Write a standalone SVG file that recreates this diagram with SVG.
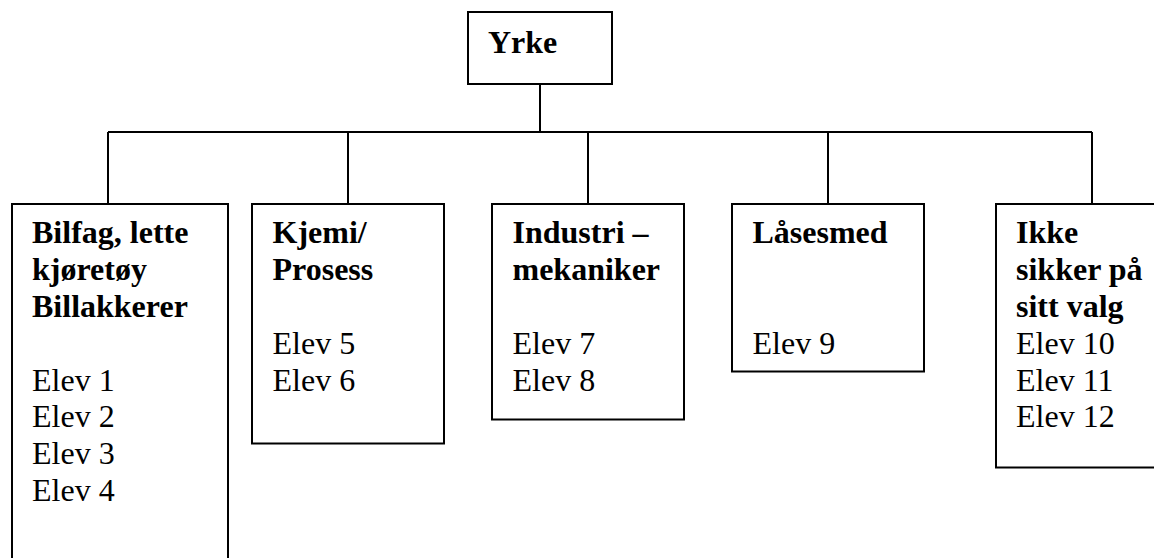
<svg xmlns="http://www.w3.org/2000/svg" width="1154" height="558" viewBox="0 0 1154 558">
  <style>
    .box { fill: #ffffff; stroke: #000000; stroke-width: 2; }
    .wire { fill: none; stroke: #000000; stroke-width: 2; }
    text { font-family: 'Liberation Serif', serif; font-size: 32px; fill: #000000; }
    .head { font-weight: bold; }
  </style>
  <rect width="1154" height="558" fill="#ffffff"/>

  <!-- connectors: trunk, bus and drops -->
  <g id="connectors" class="wire">
    <path d="M540,84 V132"/>
    <path d="M108,132 H1092"/>
    <path d="M108,132 V204"/>
    <path d="M348,132 V204"/>
    <path d="M588,132 V204"/>
    <path d="M828,132 V204"/>
    <path d="M1092,132 V204"/>
  </g>

  <g id="node-yrke">
    <rect class="box" x="468" y="12" width="144" height="72"/>
    <text class="head" x="488" y="53.3">Yrke</text>
  </g>

  <g id="node-bilfag">
    <rect class="box" x="12" y="204" width="216" height="380"/>
    <text class="head">
      <tspan x="32" y="243.3">Bilfag, lette</tspan>
      <tspan x="32" y="280.1">kjøretøy</tspan>
      <tspan x="32" y="316.9">Billakkerer</tspan>
    </text>
    <text>
      <tspan x="32" y="390.5">Elev 1</tspan>
      <tspan x="32" y="427.3">Elev 2</tspan>
      <tspan x="32" y="464.1">Elev 3</tspan>
      <tspan x="32" y="500.9">Elev 4</tspan>
    </text>
  </g>

  <g id="node-kjemi">
    <rect class="box" x="252" y="204" width="192" height="239.5"/>
    <text class="head">
      <tspan x="272.5" y="243.3">Kjemi/</tspan>
      <tspan x="272.5" y="280.1">Prosess</tspan>
    </text>
    <text>
      <tspan x="272.5" y="353.7">Elev 5</tspan>
      <tspan x="272.5" y="390.5">Elev 6</tspan>
    </text>
  </g>

  <g id="node-industri">
    <rect class="box" x="492" y="204" width="192" height="215.5"/>
    <text class="head">
      <tspan x="512.5" y="243.3">Industri –</tspan>
      <tspan x="512.5" y="280.1">mekaniker</tspan>
    </text>
    <text>
      <tspan x="512.5" y="353.7">Elev 7</tspan>
      <tspan x="512.5" y="390.5">Elev 8</tspan>
    </text>
  </g>

  <g id="node-laasesmed">
    <rect class="box" x="732" y="204" width="192" height="167.5"/>
    <text class="head" x="752.5" y="243.3">Låsesmed</text>
    <text x="752.5" y="353.7">Elev 9</text>
  </g>

  <g id="node-ikke-sikker">
    <rect class="box" x="996" y="204" width="192" height="263.5"/>
    <text class="head">
      <tspan x="1016" y="243.3">Ikke</tspan>
      <tspan x="1016" y="280.1">sikker på</tspan>
      <tspan x="1016" y="316.9">sitt valg</tspan>
    </text>
    <text>
      <tspan x="1016" y="353.7">Elev 10</tspan>
      <tspan x="1016" y="390.5">Elev 11</tspan>
      <tspan x="1016" y="427.3">Elev 12</tspan>
    </text>
  </g>
</svg>
